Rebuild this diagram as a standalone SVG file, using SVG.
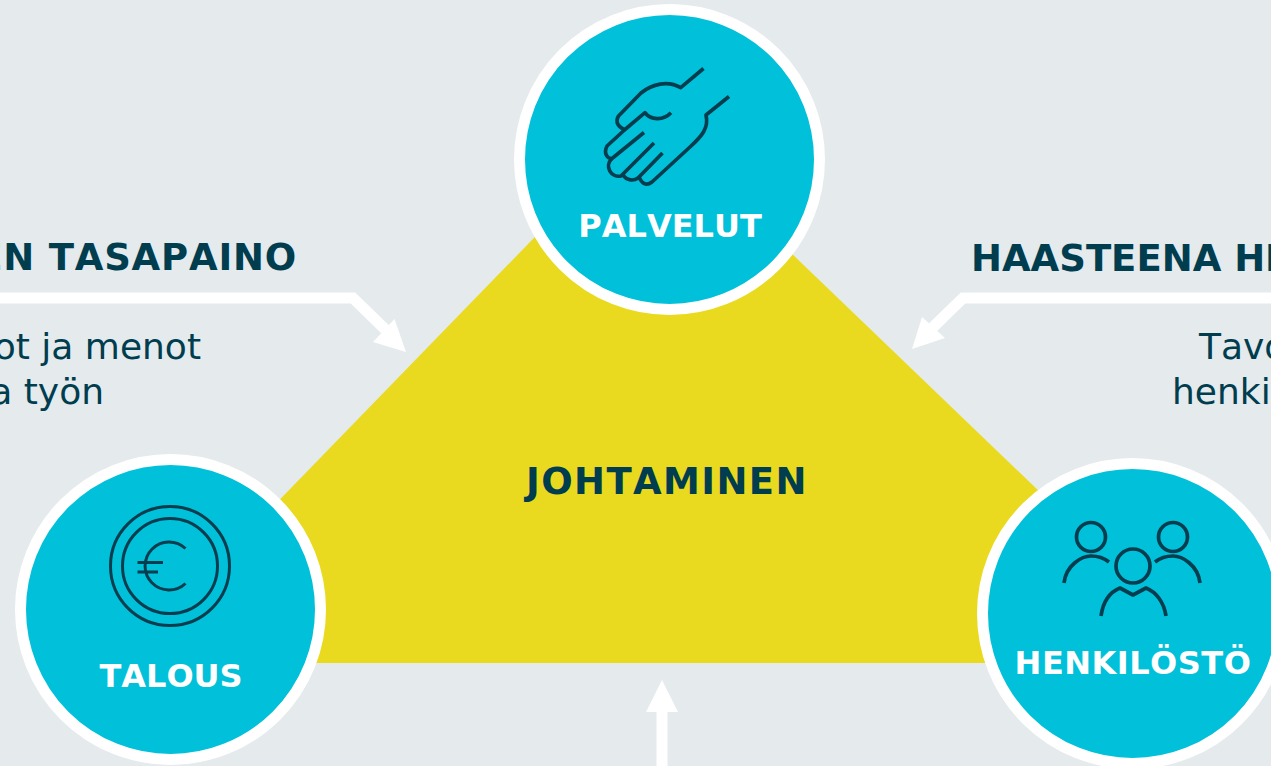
<svg xmlns="http://www.w3.org/2000/svg" width="1271" height="766" viewBox="0 0 1271 766">
<style>
.c{fill:#00c1d9;stroke:#fff;stroke-width:11}
.i{fill:none;stroke:#003d4f;stroke-width:3.7;stroke-linecap:butt;stroke-linejoin:round}
.e{stroke-width:3}
text{font-family:"DejaVu Sans",Verdana,sans-serif;fill:#003d4f;font-kerning:none}
.b{font-weight:700;font-size:37px}
.w{font-weight:700;font-size:32px;fill:#fff;text-anchor:middle}
.t{font-size:36px}
.a{fill:none;stroke:#fff;stroke-width:11}
.h{fill:#fff}
</style>
<rect width="1271" height="766" fill="#e5eaed"/>
<g id="triangle"><polygon points="650.500,118 1218,663 121,663" fill="#e9da20"/></g>
<g id="connectors">
<path class="a" d="M0,298H353L390,334"/><polygon class="h" points="406,352 373,342 394.500,319"/>
<path class="a" d="M1271,298H963L926,334"/><polygon class="h" points="912,349 922,317 945,338"/>
<path class="a" d="M662,766V708"/><polygon class="h" points="662,680 678,712 646,712"/>
</g>
<g id="palvelut">
<circle class="c" cx="669.500" cy="159.500" r="150"/>
<path class="i" d="M703.500,68.500L680.700,87.700C668,80 652,84 641,93L618.500,116C615,122 618,127 625,129.500L645,112.700C651,121 664,120 671,112.700"/>
<path class="i" d="M625,129.500L607,146C603,154 608,159 612,158.500L644,132.500"/>
<path class="i" d="M612,158.500C604,166 611,178 621,176L654,143"/>
<path class="i" d="M623,175C627,181 634,181 638,178L662.500,153"/>
<path class="i" d="M639,177C643,186 648,185 652,182L690,147C702,136 709,128 706,115L729,96.500"/>
<text class="w" x="670" y="237">PALVELUT</text>
</g>
<g id="talous">
<circle class="c" cx="170.500" cy="609.500" r="150"/>
<circle class="i e" cx="170" cy="566" r="59.500"/><circle class="i e" cx="170" cy="566" r="47.500"/>
<path class="i e" d="M185.500,548.500A24,24 0 1 0 185.500,583.500M137.500,562.500H163M137.500,572H158"/>
<text class="w" x="171" y="687">TALOUS</text>
</g>
<g id="henkilosto">
<circle class="c" cx="1132.500" cy="613.500" r="150"/>
<circle class="i" cx="1091" cy="537" r="14.500"/><circle class="i" cx="1173" cy="537" r="14.500"/><circle class="i" cx="1133" cy="566" r="17"/>
<path class="i" d="M1064,583C1066,565 1082,556 1091,556C1098,556 1104,558 1109,562"/>
<path class="i" d="M1200,583C1198,565 1182,556 1173,556C1166,556 1160,558 1155,562"/>
<path class="i" d="M1101,616C1103,602 1110,592 1120,588L1133,595L1146,588C1156,592 1164,602 1166,616"/>
<text class="w" x="1133" y="674" style="letter-spacing:.5px">HENKILÖSTÖ</text>
</g>
<g id="johtaminen"><text class="b" x="667" y="494" text-anchor="middle" style="letter-spacing:1.400px">JOHTAMINEN</text></g>
<g id="labels">
<text class="b" x="297" y="270" text-anchor="end" style="letter-spacing:.8px">EN TASAPAINO</text>
<text class="t" x="201" y="359" text-anchor="end">ot ja menot</text>
<text class="t" x="104" y="404" text-anchor="end">a työn</text>
<text class="b" x="971" y="271">HAASTEENA HI</text>
<text class="t" x="1199" y="359">Tavo</text>
<text class="t" x="1172" y="404">henki</text>
</g>
</svg>
